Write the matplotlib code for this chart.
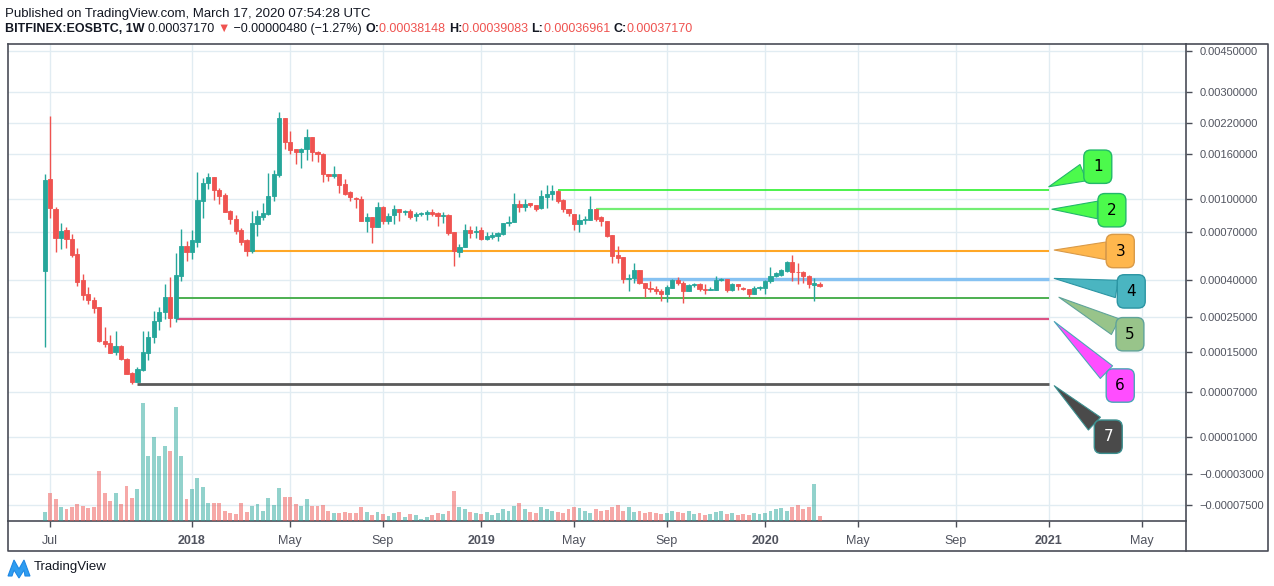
import numpy as np
import pandas as pd
import matplotlib
matplotlib.use('Agg')
import matplotlib.pyplot as plt
import matplotlib.dates as mdates
from matplotlib.lines import Line2D
from matplotlib.patches import Polygon

# weekly candles, BITFINEX:EOSBTC, first bar week of 2017-06-26
first_week = '2017-06-26'
opens = [0.000449, 0.00123, 0.000898, 0.000656, 0.000715, 0.000649, 0.000545, 0.000402, 0.000338, 0.000314,
         0.000285, 0.000178, 0.000173, 0.000151, 0.000165, 0.000134, 0.000104, 0.0000877, 0.000110, 0.000149,
         0.000188, 0.000237, 0.000267, 0.000326, 0.000249, 0.000424, 0.000598, 0.000560, 0.000627, 0.000982,
         0.00118, 0.00126, 0.0011, 0.00104, 0.000878, 0.00081, 0.000715, 0.00064, 0.000567, 0.000765,
         0.000825, 0.000855, 0.00103, 0.00129, 0.0023, 0.0018, 0.00169, 0.00164, 0.00168, 0.0019,
         0.00164, 0.0016, 0.0013, 0.00128, 0.0013, 0.00117, 0.00108, 0.001015, 0.001, 0.00079,
         0.00082, 0.00074, 0.000915, 0.00079, 0.00084, 0.0009, 0.00087, 0.00088, 0.00083, 0.00085,
         0.00085, 0.00087, 0.00086, 0.00083, 0.00084, 0.000697, 0.00056, 0.000593, 0.000715, 0.000697,
         0.000715, 0.000645, 0.000662, 0.000667, 0.000683, 0.00077, 0.00078, 0.00095, 0.00092, 0.00096,
         0.00094, 0.000906, 0.00102, 0.00105, 0.00109, 0.00099, 0.0009, 0.00085, 0.000766, 0.0008,
         0.0008, 0.0009, 0.00082, 0.00079, 0.000676, 0.000538, 0.000525, 0.000408, 0.00041, 0.000453,
         0.00039, 0.000367, 0.00036, 0.000353, 0.000338, 0.000367, 0.0004, 0.000388, 0.000351, 0.00038,
         0.000382, 0.00036, 0.000355, 0.000356, 0.0004, 0.000405, 0.000355, 0.000385, 0.000367, 0.000362,
         0.00034, 0.000367, 0.000367, 0.000395, 0.000423, 0.000425, 0.00045, 0.000496, 0.000445, 0.000445,
         0.00042, 0.00038, 0.00038148]
highs = [0.00130, 0.00236, 0.00092, 0.000774, 0.000739, 0.000681, 0.000582, 0.000431, 0.000369, 0.000327,
         0.000288, 0.000219, 0.000195, 0.000207, 0.000168, 0.000135, 0.000106, 0.000117, 0.000207, 0.000206,
         0.000273, 0.000288, 0.000383, 0.000418, 0.000554, 0.000720, 0.000632, 0.000715, 0.001324, 0.001251,
         0.00131, 0.00126, 0.00112, 0.00106, 0.00089, 0.00084, 0.000733, 0.00065, 0.000879, 0.00089,
         0.00096, 0.00131, 0.00136, 0.00245, 0.00231, 0.00202, 0.00169, 0.0017, 0.00206, 0.0019,
         0.00165, 0.00161, 0.0013, 0.00142, 0.0013, 0.00124, 0.00109, 0.00102, 0.00103, 0.00086,
         0.00082, 0.000967, 0.00093, 0.00086, 0.00094, 0.0009, 0.00089, 0.0009, 0.00087, 0.00087,
         0.00089, 0.0009, 0.00087, 0.00087, 0.00085, 0.0007, 0.000614, 0.000763, 0.000745, 0.000745,
         0.00074, 0.0007, 0.0007, 0.0007, 0.00077, 0.00083, 0.00107, 0.00099, 0.001, 0.00096,
         0.00094, 0.0011, 0.00116, 0.00116, 0.0011, 0.001, 0.0009, 0.00085, 0.00085, 0.00083,
         0.00103, 0.0009, 0.00083, 0.00079, 0.000676, 0.0006, 0.000525, 0.00043, 0.00049, 0.000453,
         0.00039, 0.000397, 0.000373, 0.00036, 0.00038, 0.000405, 0.000415, 0.000397, 0.000385, 0.00039,
         0.000386, 0.000385, 0.00037, 0.00042, 0.00041, 0.000405, 0.00039, 0.000385, 0.00037, 0.000362,
         0.000372, 0.000376, 0.0004, 0.00047, 0.00044, 0.00046, 0.000502, 0.00054, 0.00049, 0.00045,
         0.000425, 0.00041, 0.00039083]
lows = [0.000163, 0.000812, 0.000560, 0.000578, 0.000586, 0.000529, 0.000375, 0.000315, 0.000298, 0.000264,
        0.000175, 0.000163, 0.000147, 0.000143, 0.000132, 0.000102, 0.0000830, 0.0000866, 0.000109, 0.000131,
        0.000173, 0.000210, 0.000245, 0.000220, 0.000236, 0.000397, 0.000502, 0.000515, 0.000588, 0.000812,
        0.001111, 0.00099, 0.000947, 0.000867, 0.000763, 0.000684, 0.000602, 0.000535, 0.000554, 0.000671,
        0.000797, 0.00084, 0.00098, 0.00126, 0.00168, 0.0016, 0.00144, 0.00139, 0.00151, 0.00149,
        0.00147, 0.0012, 0.00121, 0.00125, 0.00106, 0.00104, 0.00098, 0.000905, 0.000785, 0.000697,
        0.00062, 0.00074, 0.00076, 0.00076, 0.00076, 0.00079, 0.00084, 0.00081, 0.00079, 0.00083,
        0.0008, 0.00083, 0.00075, 0.00077, 0.000676, 0.000477, 0.000528, 0.000593, 0.000656, 0.000656,
        0.00064, 0.00064, 0.00065, 0.000632, 0.000675, 0.00075, 0.00078, 0.00087, 0.00088, 0.00092,
        0.00088, 0.0009, 0.00091, 0.00099, 0.00096, 0.00087, 0.00083, 0.000715, 0.0007, 0.00076,
        0.0008, 0.00079, 0.00075, 0.00066, 0.000494, 0.000494, 0.000386, 0.00035, 0.000389, 0.000385,
        0.000324, 0.000346, 0.000337, 0.00031, 0.000306, 0.000367, 0.00038, 0.000303, 0.00035, 0.00037,
        0.00035, 0.000337, 0.000355, 0.000356, 0.000395, 0.000346, 0.00035, 0.000355, 0.000355, 0.000326,
        0.000338, 0.000355, 0.00034, 0.00039, 0.000415, 0.00042, 0.00044, 0.000398, 0.000385, 0.000388,
        0.000366, 0.00031, 0.00036961]
closes = [0.00122, 0.000903, 0.000656, 0.000707, 0.000649, 0.000541, 0.000394, 0.000336, 0.000315, 0.000284,
          0.000177, 0.000171, 0.000149, 0.000165, 0.000134, 0.000103, 0.0000877, 0.000112, 0.000150, 0.000189,
          0.000238, 0.000267, 0.000326, 0.000249, 0.000427, 0.000598, 0.000560, 0.000640, 0.000989, 0.001184,
          0.00126, 0.001096, 0.001035, 0.000872, 0.000806, 0.00071, 0.000627, 0.000563, 0.000771, 0.00083,
          0.00086, 0.001032, 0.0013, 0.002307, 0.0018, 0.00167, 0.00164, 0.00169, 0.0019, 0.00164,
          0.0016, 0.0013, 0.001277, 0.0013, 0.00116, 0.00105, 0.00102, 0.000995, 0.00079, 0.000824,
          0.00074, 0.000918, 0.00079, 0.00083, 0.0009, 0.00087, 0.00088, 0.00082, 0.00085, 0.00086,
          0.00087, 0.00085, 0.00083, 0.00084, 0.000694, 0.000567, 0.000594, 0.000715, 0.000695, 0.000705,
          0.000645, 0.00067, 0.000675, 0.00069, 0.00077, 0.00078, 0.000948, 0.00092, 0.00095, 0.00094,
          0.0009, 0.00103, 0.00105, 0.00109, 0.00098, 0.0009, 0.00086, 0.000766, 0.0008, 0.00081,
          0.0009, 0.00081, 0.00079, 0.000669, 0.000535, 0.00052, 0.000409, 0.000412, 0.000453, 0.000388,
          0.000366, 0.00036, 0.00035, 0.000338, 0.00037, 0.000403, 0.000386, 0.000351, 0.00038, 0.000382,
          0.00036, 0.000355, 0.00036, 0.000403, 0.000405, 0.000355, 0.000385, 0.000375, 0.00036, 0.000338,
          0.000367, 0.00037, 0.000397, 0.00042, 0.000435, 0.000453, 0.000496, 0.000443, 0.00044, 0.00042,
          0.000383, 0.000388, 0.0003717]
volumes = [9, 28, 22, 14, 12, 14, 17, 15, 13, 14, 50, 28, 20, 28, 17, 35, 23, 32, 118, 65,
           84, 65, 75, 70, 114, 65, 22, 32, 43, 34, 18, 18, 18, 10, 8, 7, 18, 9, 15, 17,
           10, 23, 16, 33, 24, 24, 17, 15, 22, 15, 15, 16, 10, 8, 8, 9, 8, 8, 14, 9,
           6, 9, 7, 5, 8, 9, 4, 7, 6, 2, 4, 6, 8, 7, 10, 30, 14, 12, 9, 8,
           7, 9, 6, 8, 12, 10, 15, 18, 12, 9, 8, 14, 12, 10, 9, 8, 12, 14, 13, 10,
           8, 12, 10, 11, 14, 16, 10, 14, 9, 10, 8, 9, 8, 7, 8, 10, 9, 8, 10, 7,
           8, 6, 7, 9, 10, 7, 8, 6, 7, 6, 8, 7, 8, 10, 12, 13, 10, 14, 16, 12,
           14, 37, 5]

# drawn horizontal levels
level_prices = [0.0011, 0.000895, 0.000567, 0.000407, 0.00032, 0.000245, 0.0000841]
level_starts = ['2019-04-15', '2019-06-03', '2018-03-12', '2019-07-22', '2017-12-11', '2017-12-11', '2017-10-23']
level_end = '2021-01-04'
level_colors = ['#2ef02e', '#74ee74', '#ffa726', '#86c2f2', '#4caf50', '#dc5283', '#5a5a5a']
level_widths = [1.2, 1.6, 1.5, 2.4, 1.4, 1.6, 2.0]

# callouts
callout_labels = ['1', '2', '3', '4', '5', '6', '7']
callout_tip_dates = ['2021-01-04', '2021-01-08', '2021-01-11', '2021-01-11', '2021-01-17', '2021-01-11', '2021-01-11']
callout_tip_prices = [0.001138, 0.000896, 0.000571, 0.00041, 0.000325, 0.000236, 0.0000806]
callout_offsets = [(49, 20), (60, -1), (66, -1), (77, -13), (71, -37), (66, -64), (54, -51)]
callout_fill = ['#4cfa4c', '#4cfa4c', '#ffb74d', '#4ab5c1', '#98c48a', '#ff4dff', '#4a4a4a']
callout_edge = ['#22b86a', '#22b86a', '#d99a48', '#2b95a3', '#5fa39a', '#4aa6b8', '#3b8f8f']
callout_text = ['black', 'black', 'black', 'black', 'black', 'black', 'white']

price_ticks = [0.0045, 0.003, 0.0022, 0.0016, 0.001, 0.0007, 0.0004, 0.00025, 0.00015,
               0.00007, 0.00001, -0.00003, -0.000075]
time_ticks = ['2017-07-03', '2018-01-01', '2018-05-07', '2018-09-03', '2019-01-07', '2019-05-06',
              '2019-09-02', '2020-01-06', '2020-05-04', '2020-09-07', '2021-01-04', '2021-05-03']
time_labels = ['Jul', '2018', 'May', 'Sep', '2019', 'May', 'Sep', '2020', 'May', 'Sep', '2021', 'May']

UP = '#26a69a'
DOWN = '#ef5350'
TXT = '#50535e'
INK = '#131722'
FRAME = '#4a4d57'
FONT = ['Liberation Sans', 'DejaVu Sans']
plt.rcParams['font.family'] = FONT


def fwd(p):
    p = np.asarray(p, dtype=float)
    return np.sign(p) * np.log10(1 + np.abs(p) / 1e-4)


def inv(f):
    f = np.asarray(f, dtype=float)
    return np.sign(f) * 1e-4 * (10 ** np.abs(f) - 1)


W, H = 1274, 586
fig = plt.figure(figsize=(W / 100, H / 100), dpi=100)
ax = fig.add_axes([8 / W, 65 / H, 1178 / W, 477 / H])
ax.set_yscale('function', functions=(fwd, inv))

o = np.array(opens)
h = np.array(highs)
l = np.array(lows)
c = np.array(closes)
x = mdates.date2num(pd.date_range(first_week, periods=len(o), freq='7D'))
cols = np.where(c >= o, UP, DOWN)

ax.vlines(x, l, h, colors=cols, lw=1, zorder=3)
ax.bar(x, np.abs(c - o), bottom=np.minimum(o, c), width=5.4, color=cols,
       edgecolor=cols, lw=0.6, zorder=4)

for p, s, col, lw in zip(level_prices, level_starts, level_colors, level_widths):
    ax.hlines(p, mdates.datestr2num(s), mdates.datestr2num(level_end), colors=col, lw=lw, zorder=2)

for lbl, td, tp, off, fc, ec, tc in zip(callout_labels, callout_tip_dates, callout_tip_prices,
                                        callout_offsets, callout_fill, callout_edge, callout_text):
    ax.annotate(lbl, xy=(mdates.datestr2num(td), tp), xytext=off, textcoords='offset pixels',
                ha='center', va='center', fontsize=11, color=tc, family='DejaVu Sans', zorder=6,
                bbox=dict(boxstyle='round,pad=0.6,rounding_size=0.45', fc=fc, ec=ec, lw=1),
                arrowprops=dict(arrowstyle='wedge,tail_width=1.15,shrink_factor=0.5',
                                fc=fc, ec=ec, lw=0.8, shrinkA=0, shrinkB=0))

ax.set_xlim(mdates.datestr2num('2017-05-10'), mdates.datestr2num('2021-06-29'))
ax.set_ylim(-0.000105, 0.004825)

# volume overlay (twinx resets the host ticks, so it comes before the tick setup)
ax_v = ax.twinx()
ax_v.bar(x, volumes, width=5.0, color=cols, alpha=0.5, lw=0)
ax_v.set_ylim(0, max(volumes) * 4.04)
ax_v.axis('off')

ax.set_yticks(price_ticks)
ax.set_yticklabels([f'{v:.8f}'.replace('-', '\u2212') for v in price_ticks])
ax.yaxis.tick_right()
ax.tick_params(axis='y', direction='out', length=4, width=1, color=FRAME, labelsize=8,
               labelcolor=TXT, pad=6, left=False, labelleft=False, right=True, labelright=True)
ax.set_xticks(mdates.datestr2num(time_ticks))
ax.set_xticklabels(time_labels)
for t in ax.get_xticklabels():
    if t.get_text().isdigit():
        t.set_fontweight('bold')
ax.tick_params(axis='x', direction='out', length=4, width=1, color=FRAME, labelsize=9,
               labelcolor=TXT, pad=6)
ax.grid(color='#e1ecf2', lw=1)
ax.set_axisbelow(True)
for sp in ax.spines.values():
    sp.set_color(FRAME)
    sp.set_linewidth(1.2)

# outer frame of price and time scales
fx = lambda px: px / W
fy = lambda py: 1 - py / H
fig.add_artist(Line2D([fx(1186), fx(1268), fx(1268), fx(8), fx(8)],
                      [fy(44), fy(44), fy(551), fy(551), fy(521)], color=FRAME, lw=1.2))
fig.add_artist(Line2D([fx(1186), fx(1186)], [fy(521), fy(551)], color=FRAME, lw=1.2))

# header
fig.text(fx(5), fy(17), 'Published on TradingView.com, March 17, 2020 07:54:28 UTC',
         fontsize=9.5, color=INK, va='baseline')
parts = [('BITFINEX:EOSBTC, 1W ', INK, 'bold'), ('0.00037170 ', INK, 'normal'),
         ('\u25bc', DOWN, 'normal'), (' \u22120.00000480 (\u22121.27%) ', INK, 'normal'),
         ('O:', INK, 'bold'), ('0.00038148 ', DOWN, 'normal'),
         ('H:', INK, 'bold'), ('0.00039083 ', DOWN, 'normal'),
         ('L:', INK, 'bold'), ('0.00036961 ', DOWN, 'normal'),
         ('C:', INK, 'bold'), ('0.00037170', DOWN, 'normal')]
txt = fig.text(fx(5), fy(35), parts[0][0], color=parts[0][1], fontweight=parts[0][2],
               fontsize=9, va='bottom')
for s, col, wt in parts[1:]:
    txt = ax.annotate(s, xy=(1, 0), xycoords=txt, va='bottom', color=col, fontweight=wt,
                      fontsize=9)

# footer logo and name
logo = Polygon([[fx(8), fy(576)], [fx(14), fy(560)], [fx(19), fy(569)], [fx(24), fy(560)],
                [fx(30), fy(576)], [fx(25), fy(576)], [fx(24), fy(570)], [fx(19), fy(578)],
                [fx(14), fy(570)], [fx(12), fy(576)]],
               closed=True, fc='#2e9cf0', ec='#1e88e5', lw=0.8, transform=fig.transFigure)
fig.add_artist(logo)
fig.text(fx(34), fy(567), 'TradingView', fontsize=9.5, color=INK, va='center')

fig.savefig('out.png', dpi=100, facecolor='white')
